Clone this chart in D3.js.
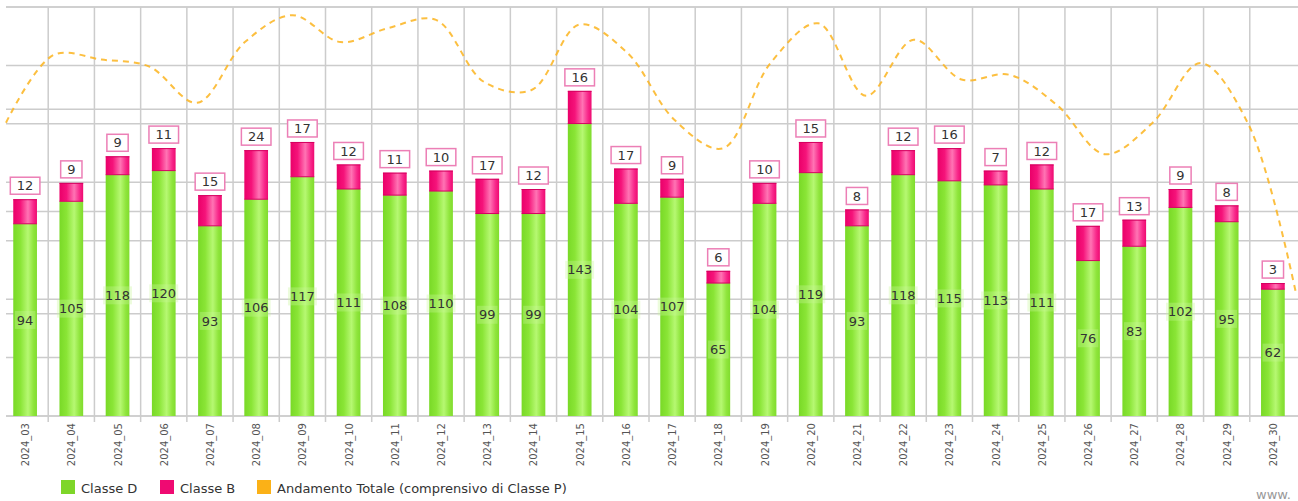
<!DOCTYPE html>
<html>
<head>
<meta charset="utf-8">
<script src="https://cdn.jsdelivr.net/npm/d3@7"></script>
<style>
html,body{margin:0;padding:0;background:#fff;}
svg{display:block;font-family:"DejaVu Sans",Verdana,sans-serif;}
</style>
</head>
<body>
<svg id="chart" width="1298" height="501"></svg>
<script>
const categories = ["2024_03","2024_04","2024_05","2024_06","2024_07","2024_08","2024_09","2024_10","2024_11","2024_12","2024_13","2024_14","2024_15","2024_16","2024_17","2024_18","2024_19","2024_20","2024_21","2024_22","2024_23","2024_24","2024_25","2024_26","2024_27","2024_28","2024_29","2024_30"];
const classeD = [94,105,118,120,93,106,117,111,108,110,99,99,143,104,107,65,104,119,93,118,115,113,111,76,83,102,95,62];
const classeB = [12,9,9,11,15,24,17,12,11,10,17,12,16,17,9,6,10,15,8,12,16,7,12,17,13,9,8,3];
const totale = [251,309,305,299,268,320,343,320,332,339,286,279,335,311,253,229,302,336,274,322,288,292,266,224,251,302,250,105];
const barTicks = [0,50,100,150,200];
const lineTicks = [0,50,100,150,200,250,300,350];
const seriesNames = ["Classe D","Classe B","Andamento Totale (comprensivo di Classe P)"];
const seriesColors = ["#7ed629","#ef0a72","#fbb117"];

const svg = d3.select("#chart");
const plot = {left: 2, right: 1296, top: 7, bottom: 416};

const x = d3.scaleBand().domain(categories).range([plot.left, plot.right]).paddingInner(0.487).paddingOuter(0.2435);
const xLine = d3.scalePoint().domain(categories).range([6, 1296]);
const yBar = d3.scaleLinear().domain([0, 200]).range([plot.bottom, plot.top]);
const yLine = d3.scaleLinear().domain([0, 350]).range([plot.bottom, plot.top]);

const defs = svg.append("defs");
function grad(id, stops){
  const g = defs.append("linearGradient").attr("id", id).attr("x1","0%").attr("x2","100%").attr("y1","0%").attr("y2","0%");
  stops.forEach(s => g.append("stop").attr("offset", s[0]).attr("stop-color", s[1]));
}
grad("gGreen", [["0%","#79d927"],["30%","#8ae536"],["62%","#b6f872"],["85%","#8fe53c"],["100%","#80dc2e"]]);
grad("gPink", [["0%","#ea0069"],["30%","#f5137a"],["62%","#ff74b4"],["85%","#f8278a"],["100%","#ee0a70"]]);

// grid
const grid = svg.append("g").attr("stroke", "#cccccc").attr("stroke-width", 1.5).attr("fill", "none");
const step = x.step();
categories.slice(1).forEach((c, i) => {
  const gx = x(c) - x.paddingInner() * step / 2;
  grid.append("line").attr("x1", gx).attr("x2", gx).attr("y1", plot.top).attr("y2", plot.bottom + 6);
});
barTicks.forEach(t => grid.append("line").attr("x1", 6).attr("x2", 1298).attr("y1", yBar(t)).attr("y2", yBar(t)));
lineTicks.forEach(t => grid.append("line").attr("x1", 6).attr("x2", 1298).attr("y1", yLine(t)).attr("y2", yLine(t)));

// bars
const bars = svg.append("g");
categories.forEach((c, i) => {
  const bx = x(c), bw = x.bandwidth();
  const d = classeD[i], b = classeB[i];
  bars.append("rect").attr("x", bx).attr("width", bw)
    .attr("y", yBar(d)).attr("height", yBar(0) - yBar(d)).attr("fill", "url(#gGreen)");
  bars.append("rect").attr("x", bx).attr("width", bw)
    .attr("y", yBar(d + b)).attr("height", yBar(d) - yBar(d + b)).attr("fill", "url(#gPink)");
  bars.append("line").attr("x1", bx).attr("x2", bx + bw).attr("y1", yBar(d)).attr("y2", yBar(d))
    .attr("stroke", "#d4005f").attr("stroke-width", 1);
  bars.append("line").attr("x1", bx).attr("x2", bx + bw).attr("y1", yBar(d + b) + 0.5).attr("y2", yBar(d + b) + 0.5)
    .attr("stroke", "#d4005f").attr("stroke-width", 1);
});

// line
const line = d3.line().x((v, i) => xLine(categories[i])).y(v => yLine(v)).curve(d3.curveCatmullRom.alpha(0.5));
svg.append("path").datum(totale).attr("d", line).attr("fill", "none")
  .attr("stroke", "#fbb41f").attr("stroke-opacity", 0.85).attr("stroke-width", 2)
  .attr("stroke-dasharray", "6,5");

// value labels
const labels = svg.append("g").attr("font-size", 13).attr("fill", "#333");
categories.forEach((c, i) => {
  const cx = x(c) + x.bandwidth() / 2;
  const d = classeD[i], b = classeB[i];
  const gy = (yBar(0) + yBar(d)) / 2;
  const tw = String(d).length * 8.3 + 4;
  labels.append("rect").attr("x", cx - tw / 2).attr("y", gy - 9).attr("width", tw).attr("height", 18)
    .attr("fill", "#c8f79a").attr("fill-opacity", 0.35);
  labels.append("text").attr("x", cx).attr("y", gy).attr("dy", "0.36em").attr("text-anchor", "middle").text(d);
  const py = yBar(d + b) - 13.5;
  const pw = String(b).length * 8.3 + 13;
  labels.append("rect").attr("x", cx - pw / 2).attr("y", py - 8.5).attr("width", pw).attr("height", 17)
    .attr("fill", "#fff").attr("stroke", "#ec7fb6").attr("stroke-width", 1.5);
  labels.append("text").attr("x", cx).attr("y", py).attr("dy", "0.36em").attr("text-anchor", "middle").text(b);
});

// x axis labels
const xl = svg.append("g").attr("font-size", 10).attr("fill", "#555");
categories.forEach(c => {
  const cx = x(c) + x.bandwidth() / 2;
  xl.append("text").attr("transform", `translate(${cx + 0.5},${plot.bottom + 7}) rotate(-90)`)
    .attr("text-anchor", "end").attr("dy", "0.35em").text(c);
});

// legend
const legend = svg.append("g").attr("font-size", 13).attr("fill", "#333");
const legX = [61, 160, 257];
seriesNames.forEach((n, i) => {
  legend.append("rect").attr("x", legX[i]).attr("y", 480).attr("width", 14).attr("height", 14).attr("fill", seriesColors[i]);
  legend.append("text").attr("x", legX[i] + 20).attr("y", 492.5).text(n);
});
svg.append("text").attr("x", 1256).attr("y", 499).attr("font-size", 13).attr("fill", "#999").text("www.");
</script>
</body>
</html>
